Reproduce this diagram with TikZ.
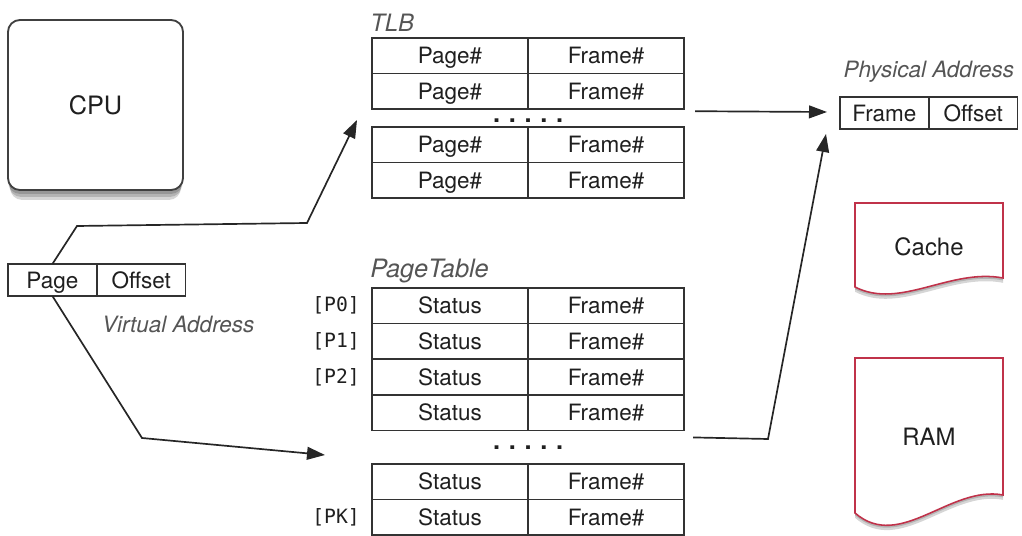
\documentclass[tikz,border=0pt]{standalone}
\usepackage{fontspec}
\setmainfont{TeX Gyre Heros}
\newfontfamily\monofont{DejaVu Sans Mono}
\usepackage{tikz}
\usetikzlibrary{
    arrows.meta,
    positioning,
    calc,
    backgrounds
}
\definecolor{docred}{RGB}{192,50,74}
\definecolor{titlegray}{RGB}{85,85,85}
\newcommand{\fivedots}{{\fontsize{18}{20}\selectfont\bfseries .\hspace{6.2pt}.\hspace{6.2pt}.\hspace{6.2pt}.\hspace{6.2pt}.}}
% document outline: top, right bottom, left bottom, control heights
\newcommand{\docoutline}[5]{(855,#1) -- (1003,#1) -- (1003,#2)
    .. controls (950,#4) and (900,#5) .. (855,#3) -- cycle}

\begin{document}
\begin{tikzpicture}[
    x=0.025cm, y=-0.025cm,
    every node/.style={font=\fontsize{16}{19}\selectfont, text=black!88},
    cell/.style={rectangle, draw=black!80, line width=1.2pt, minimum width=3.9cm,
                 minimum height=0.89cm, inner sep=0pt, outer sep=0pt,
                 text height=11.5pt, text depth=0pt},
    addr/.style={cell, minimum width=2.22cm, minimum height=0.8cm},
    tabtitle/.style={font=\fontsize{16}{19}\selectfont\itshape, text=titlegray, inner sep=0pt},
    rowlabel/.style={font=\fontsize{14}{17}\selectfont\monofont, inner sep=0pt},
    cpubox/.style={rectangle, rounded corners=0.3cm, draw=black!75, line width=1.3pt, fill=white,
                   minimum width=4.375cm, minimum height=4.25cm, font=\fontsize{18}{21}\selectfont},
    docbox/.style={draw=docred, line width=1.1pt, fill=white},
    softshadow/.style={fill=black, opacity=0.16},
    doctext/.style={font=\fontsize{17}{20}\selectfont},
    arrow/.style={line width=1.2pt, draw=black!85, -{Triangle[length=0.45cm,width=0.32cm]}}
]
    \useasboundingbox (0,0) rectangle (1022,536);

    % CPU
    \node[cpubox] (cpu) at (95.5,105) {CPU};
    \begin{scope}[on background layer]
        \fill[softshadow, rounded corners=0.3cm] ($(cpu.north west)+(1,3)$) rectangle ($(cpu.south east)+(-1,3)$);
        \fill[softshadow, rounded corners=0.3cm] ($(cpu.north west)+(2,6)$) rectangle ($(cpu.south east)+(-2,6)$);
        \fill[softshadow, rounded corners=0.3cm] ($(cpu.north west)+(3,9)$) rectangle ($(cpu.south east)+(-3,9)$);
    \end{scope}

    % Virtual address
    \node[addr, anchor=north west] (vPage) at (8,264) {Page};
    \node[addr, right=0pt of vPage] (vOff) {Offset};
    \node[tabtitle, anchor=base] (vtitle) at ($(vOff.south)+(37,36)$) {Virtual Address};

    % TLB
    \node[cell, anchor=north west] (tlbP1) at (372,38) {Page\#};
    \node[cell, right=0pt of tlbP1] (tlbF1) {Frame\#};
    \node[cell, below=0pt of tlbP1] (tlbP2) {Page\#};
    \node[cell, right=0pt of tlbP2] (tlbF2) {Frame\#};
    \node[anchor=base] (tlbdots) at ($(tlbF2.south west)+(0,13)$) {\fivedots};
    \node[cell, anchor=north west] (tlbP3) at (372,127) {Page\#};
    \node[cell, right=0pt of tlbP3] (tlbF3) {Frame\#};
    \node[cell, below=0pt of tlbP3] (tlbP4) {Page\#};
    \node[cell, right=0pt of tlbP4] (tlbF4) {Frame\#};
    \node[tabtitle, font=\fontsize{17}{20}\selectfont\itshape, anchor=base west] (tlbtitle)
        at ($(tlbP1.north west)+(-2,-6)$) {TLB};

    % Page table
    \node[cell, anchor=north west] (ptS0) at (372,288) {Status};
    \node[cell, right=0pt of ptS0] (ptF0) {Frame\#};
    \node[cell, below=0pt of ptS0] (ptS1) {Status};
    \node[cell, right=0pt of ptS1] (ptF1) {Frame\#};
    \node[cell, below=0pt of ptS1] (ptS2) {Status};
    \node[cell, right=0pt of ptS2] (ptF2) {Frame\#};
    \node[cell, below=0pt of ptS2] (ptS3) {Status};
    \node[cell, right=0pt of ptS3] (ptF3) {Frame\#};
    \node[anchor=base] (ptdots) at ($(ptF3.south west)+(0,19)$) {\fivedots};
    \node[cell, anchor=north west] (ptS4) at (372,464) {Status};
    \node[cell, right=0pt of ptS4] (ptF4) {Frame\#};
    \node[cell, below=0pt of ptS4] (ptSK) {Status};
    \node[cell, right=0pt of ptSK] (ptFK) {Frame\#};
    \node[tabtitle, font=\fontsize{18}{21}\selectfont\itshape, anchor=base west] (pttitle)
        at ($(ptS0.north west)+(-2,-10)$) {PageTable};

    \node[rowlabel, left=0.3cm of ptS0] (lP0) {[P0]};
    \node[rowlabel, left=0.3cm of ptS1] (lP1) {[P1]};
    \node[rowlabel, left=0.3cm of ptS2] (lP2) {[P2]};
    \node[rowlabel, left=0.3cm of ptSK] (lPK) {[PK]};

    % Physical address
    \node[addr, anchor=north west] (physF) at (840,97) {Frame};
    \node[addr, right=0pt of physF] (physO) {Offset};
    \node[tabtitle, anchor=base] (phystitle) at ($(physF.north east)+(0,-19)$) {Physical Address};

    % Cache and RAM
    \fill[softshadow, yshift=-0.06cm] \docoutline{203}{278}{287}{268}{310};
    \fill[softshadow, yshift=-0.12cm] \docoutline{203}{278}{287}{268}{310};
    \draw[docbox] \docoutline{203}{278}{287}{268}{310};
    \node[doctext] (cache) at (929,247) {Cache};
    \fill[softshadow, yshift=-0.06cm] \docoutline{358}{495}{513}{485}{552};
    \fill[softshadow, yshift=-0.12cm] \docoutline{358}{495}{513}{485}{552};
    \draw[docbox] \docoutline{358}{495}{513}{485}{552};
    \node[doctext] (ram) at (929,437) {RAM};

    % Arrow ends
    \coordinate (tlbin) at (357,120);
    \coordinate (ptin) at (325,455);
    \coordinate (tlbout) at ($(tlbF2.south east)+(11,2)$);
    \coordinate (physin) at ($(physF.west)+(-13,-1)$);
    \coordinate (ptout) at ($(ptF3.south east)+(9,7)$);
    \coordinate (physup) at ($(physF.south west)+(-14,5)$);

    % Arrows
    \draw[arrow] (vPage.north) -- (77,226) -- (307,223) -- (tlbin);
    \draw[arrow] (vPage.south) -- (142,438) -- (ptin);
    \draw[arrow] (tlbout) -- (physin);
    \draw[arrow] (ptout) -- (768,439) -- (physup);

\end{tikzpicture}
\end{document}
